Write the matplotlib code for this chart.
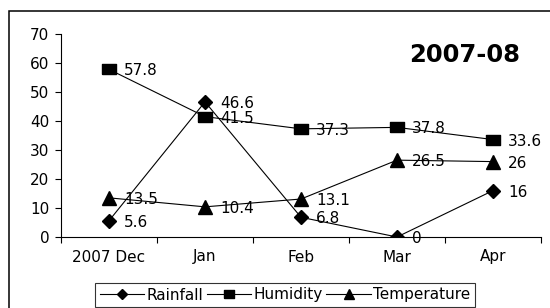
import matplotlib
matplotlib.use("Agg")
import matplotlib.pyplot as plt
from matplotlib.patches import Rectangle

# данные
months = ["2007 Dec", "Jan", "Feb", "Mar", "Apr"]
rainfall = [5.6, 46.6, 6.8, 0, 16]
humidity = [57.8, 41.5, 37.3, 37.8, 33.6]
temperature = [13.5, 10.4, 13.1, 26.5, 26]
rain_labels = ["5.6", "46.6", "6.8", "0", "16"]
hum_labels = ["57.8", "41.5", "37.3", "37.8", "33.6"]
temp_labels = ["13.5", "10.4", "13.1", "26.5", "26"]

plt.rcParams['font.family'] = ['DejaVu Sans']

W, H = 550, 308
fig = plt.figure(figsize=(W / 100, H / 100), dpi=100)
ax = fig.add_axes([61 / W, 1 - 237 / H, (541 - 61) / W, (237 - 34) / H])

# квадрат в оригинале чуть растянут по горизонтали
wide_square = [(-1, -0.72), (1, -0.72), (1, 0.72), (-1, 0.72), (-1, -0.72)]

x = list(range(len(months)))
lw = 0.8
ax.plot(x, rainfall, color='black', lw=lw, marker='D', ms=7, label='Rainfall', zorder=3)
ax.plot(x, humidity, color='black', lw=lw, marker=wide_square, ms=10, label='Humidity', zorder=3)
ax.plot(x, temperature, color='black', lw=lw, marker='^', ms=10, label='Temperature', zorder=3)

# подписи значений справа от маркеров
for vals, labs in [(rainfall, rain_labels), (humidity, hum_labels), (temperature, temp_labels)]:
    for xi, v, t in zip(x, vals, labs):
        ax.annotate(t, (xi, v), xytext=(11, 0), textcoords='offset points',
                    ha='left', va='center_baseline', fontsize=11, zorder=4)

ax.set_xlim(-0.5, len(months) - 0.5)
ax.set_ylim(0, 70)
ax.set_yticks(range(0, 71, 10))
ax.set_xticks(x)
ax.set_xticklabels(months)
ax.set_xticks([i - 0.5 for i in range(len(months) + 1)], minor=True)
ax.tick_params(axis='x', which='major', length=0, pad=9, labelsize=11)
ax.tick_params(axis='x', which='minor', length=4, width=0.8, direction='out')
ax.tick_params(axis='y', length=4.5, width=0.8, pad=4, labelsize=11)

for s in ['top', 'right']:
    ax.spines[s].set_visible(False)
for s in ['left', 'bottom']:
    ax.spines[s].set_linewidth(0.8)

fig.text(465 / W, 1 - 55 / H, "2007-08", fontsize=17.5, fontweight='bold',
         ha='center', va='center')

leg = fig.legend(loc='center', bbox_to_anchor=(285 / W, 1 - 295 / H), ncol=3,
                 fontsize=11, frameon=True, fancybox=False, edgecolor='black',
                 handlelength=2.9, handletextpad=0.15, columnspacing=0.25,
                 borderpad=0.3, borderaxespad=0, markerscale=0.75)
leg.get_frame().set_linewidth(0.8)

# рамка вокруг всей диаграммы
fig.patches.append(Rectangle((9 / W, -0.2), 1.2, 1.2 - 11 / H, transform=fig.transFigure,
                             fill=False, edgecolor='black', lw=1.1))

fig.savefig("out.png", dpi=100)
